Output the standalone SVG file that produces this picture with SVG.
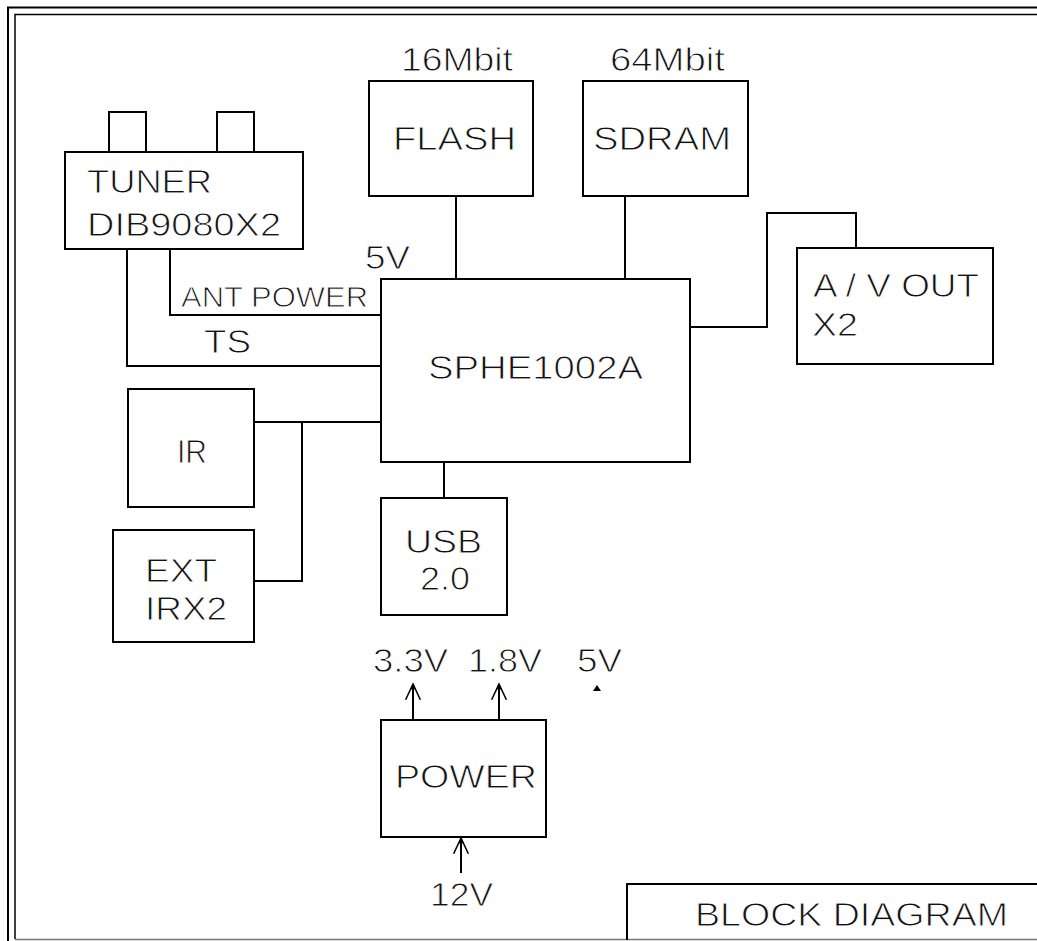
<svg xmlns="http://www.w3.org/2000/svg" width="1037" height="941" viewBox="0 0 1037 941">
<style>
.box{fill:none;stroke:#000;stroke-width:2}
.ln{fill:none;stroke:#000;stroke-width:2}
.fr{fill:none;stroke:#000}
text{font-family:"Liberation Sans",Arial,sans-serif;font-size:34px;fill:#111;stroke:#fff;stroke-width:0.9px}
.sm{font-size:29px}
</style>
<defs>
<marker id="arr" markerUnits="userSpaceOnUse" markerWidth="20" markerHeight="20" viewBox="-17 -9 19 18" refX="0" refY="0" orient="auto" overflow="visible">
<path d="M-15,-7 L0,0 L-15,7" fill="none" stroke="#000" stroke-width="1.5"/>
<path d="M-5,-2.5 L0,0 L-5,2.5Z" fill="#000"/>
</marker>
</defs>
<rect width="1037" height="941" fill="#fff"/>
<g id="frame">
<path class="fr" stroke-width="2" d="M8,941 V7.5 H1037"/>
<path class="fr" stroke-width="1.5" d="M15,939 V14.5 H1037"/>
<path d="M15,939.5 H1037" stroke="#777" stroke-width="1.5"/>
</g>
<g id="connectors">
<path class="ln" d="M127,249 V366 H381"/>
<path class="ln" d="M170,249 V315 H381"/>
<path class="ln" d="M456,196 V279"/>
<path class="ln" d="M625,196 V279"/>
<path class="ln" d="M690,327 H767 V213 H856 V248"/>
<path class="ln" d="M254,422 H381"/>
<path class="ln" d="M302,422 V581 H254"/>
<path class="ln" d="M444,462 V498"/>
<path class="ln" d="M413,720 V684" marker-end="url(#arr)"/>
<path class="ln" d="M499,720 V684" marker-end="url(#arr)"/>
<path class="ln" d="M461,873 V838" marker-end="url(#arr)"/>
<path d="M597,685 L593,691 L601,691Z" fill="#000"/>
</g>
<g id="tuner">
<rect class="box" x="109" y="112" width="37" height="40"/>
<rect class="box" x="217" y="112" width="37" height="40"/>
<rect class="box" x="65" y="152" width="238" height="97"/>
<text x="87" y="193" textLength="125" lengthAdjust="spacingAndGlyphs">TUNER</text>
<text x="87" y="236" textLength="194" lengthAdjust="spacingAndGlyphs">DIB9080X2</text>
</g>
<g id="labels">
<text x="365" y="269" textLength="45" lengthAdjust="spacingAndGlyphs">5V</text>
<text class="sm" x="181" y="307" textLength="187" lengthAdjust="spacingAndGlyphs">ANT POWER</text>
<text x="204" y="353" textLength="47" lengthAdjust="spacingAndGlyphs">TS</text>
<text x="373" y="672" textLength="75" lengthAdjust="spacingAndGlyphs">3.3V</text>
<text x="468" y="672" textLength="74" lengthAdjust="spacingAndGlyphs">1.8V</text>
<text x="577" y="672" textLength="45" lengthAdjust="spacingAndGlyphs">5V</text>
<text x="430" y="906" textLength="63" lengthAdjust="spacingAndGlyphs">12V</text>
</g>
<g id="flash">
<text x="401" y="71" textLength="112" lengthAdjust="spacingAndGlyphs">16Mbit</text>
<rect class="box" x="369" y="81" width="164" height="115"/>
<text x="393" y="150" textLength="123" lengthAdjust="spacingAndGlyphs">FLASH</text>
</g>
<g id="sdram">
<text x="610" y="71" textLength="115" lengthAdjust="spacingAndGlyphs">64Mbit</text>
<rect class="box" x="583" y="81" width="165" height="115"/>
<text x="593" y="150" textLength="138" lengthAdjust="spacingAndGlyphs">SDRAM</text>
</g>
<g id="sphe">
<rect class="box" x="381" y="279" width="309" height="183"/>
<text x="428" y="379" textLength="215" lengthAdjust="spacingAndGlyphs">SPHE1002A</text>
</g>
<g id="avout">
<rect class="box" x="797" y="248" width="196" height="116"/>
<text x="813" y="297" textLength="166" lengthAdjust="spacingAndGlyphs">A / V OUT</text>
<text x="812" y="336" textLength="46" lengthAdjust="spacingAndGlyphs">X2</text>
</g>
<g id="ir">
<rect class="box" x="128" y="389" width="126" height="118"/>
<text x="177" y="463" textLength="30" lengthAdjust="spacingAndGlyphs">IR</text>
</g>
<g id="extir">
<rect class="box" x="113" y="530" width="141" height="112"/>
<text x="145" y="582" textLength="72" lengthAdjust="spacingAndGlyphs">EXT</text>
<text x="145" y="620" textLength="82" lengthAdjust="spacingAndGlyphs">IRX2</text>
</g>
<g id="usb">
<rect class="box" x="381" y="498" width="126" height="117"/>
<text x="405" y="553" textLength="77" lengthAdjust="spacingAndGlyphs">USB</text>
<text x="420" y="590" textLength="50" lengthAdjust="spacingAndGlyphs">2.0</text>
</g>
<g id="power">
<rect class="box" x="381" y="720" width="165" height="117"/>
<text x="395" y="788" textLength="142" lengthAdjust="spacingAndGlyphs">POWER</text>
</g>
<g id="title">
<path class="ln" d="M627,940 V884 H1037"/>
<text x="695" y="926" textLength="313" lengthAdjust="spacingAndGlyphs">BLOCK DIAGRAM</text>
</g>
</svg>
